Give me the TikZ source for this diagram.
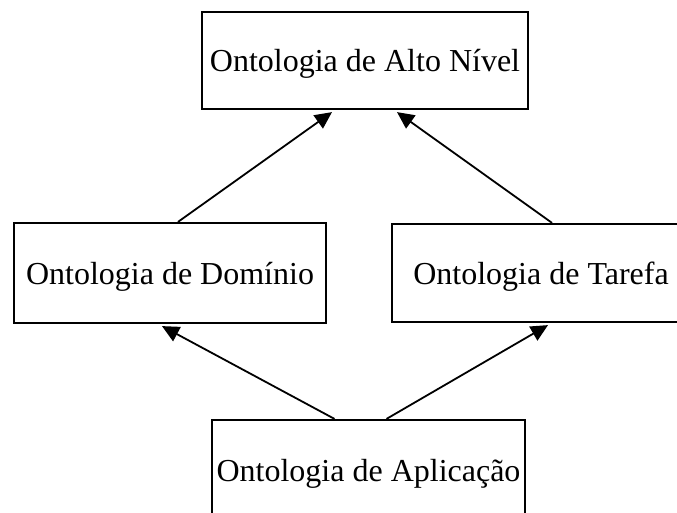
\documentclass[tikz,border=0pt]{standalone}
\usepackage{fontspec}
\setmainfont{Liberation Serif}
\usepackage{tikz}
\usetikzlibrary{arrows.meta,shapes}
\tikzstyle{caixa}=[rectangle,draw,line width=2.2pt,inner sep=0pt,text depth=0pt,font=\fontsize{32}{37}\selectfont]
\tikzstyle{seta} = [draw,line width=1.8pt,-{Triangle[length=17pt,width=16pt]}]

\begin{document}
\begin{tikzpicture}[x=1pt,y=-1pt]
    \useasboundingbox (0,0) rectangle (677,513);

    \foreach \pos/ \name/ \w/ \h/ \texto in {{(365,60.5)/alto/326/97/{Ontologia de Alto Nível}}, {(170,273)/dominio/312/100/{Ontologia de Domínio}}, {(541,273)/tarefa/298/98/{Ontologia de Tarefa}}, {(368.5,470)/aplicacao/313/100/{Ontologia de Aplicação}}}
        \node[caixa,minimum width=\w pt,minimum height=\h pt] (\name) at \pos {\texto};

    % setas de especializacao
    \foreach \source/ \sx/ \dest/ \dx in {dominio/8/alto/-33, tarefa/11/alto/32, aplicacao/-34/dominio/-8, aplicacao/18/tarefa/7}
        \path[seta] ([xshift=\sx pt]\source.north) -- ([xshift=\dx pt,yshift=-2pt]\dest.south);

\end{tikzpicture}
\end{document}
